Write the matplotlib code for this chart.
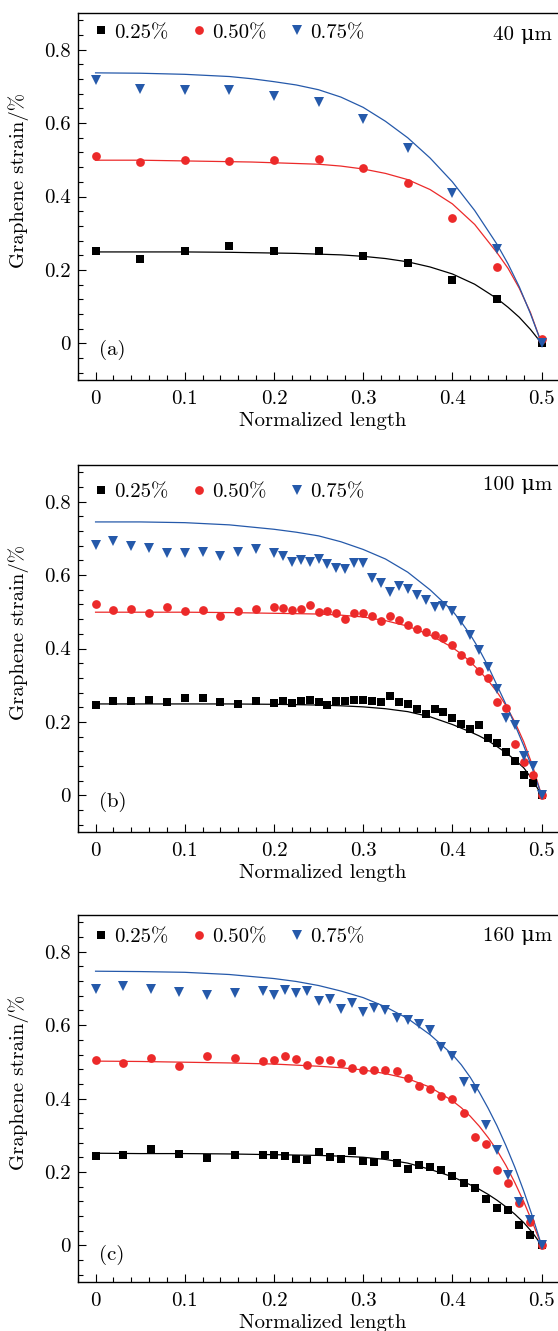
import matplotlib
matplotlib.use('Agg')
import matplotlib.pyplot as plt
from matplotlib.ticker import MultipleLocator, FuncFormatter

# Computer Modern look, DejaVu Serif picks up the micro sign
plt.rcParams['font.family'] = ['cmr10', 'DejaVu Serif']
plt.rcParams['mathtext.fontset'] = 'cm'
plt.rcParams['axes.unicode_minus'] = False
plt.rcParams['axes.formatter.use_mathtext'] = True
plt.rcParams['font.size'] = 15

BLACK = '#000000'
RED = '#ec2a2a'
BLUE = '#2559aa'

# ---- (a) 40 um ----
x_a = [0, 0.05, 0.1, 0.15, 0.2, 0.25, 0.3, 0.35, 0.4, 0.45, 0.5]
sq_a = [0.252, 0.231, 0.252, 0.265, 0.251, 0.252, 0.239, 0.219, 0.172, 0.120, 0.0]
ci_a = [0.510, 0.494, 0.500, 0.496, 0.500, 0.502, 0.477, 0.436, 0.342, 0.208, 0.012]
tr_a = [0.717, 0.693, 0.691, 0.689, 0.673, 0.657, 0.611, 0.531, 0.410, 0.258, 0.002]

fx_a = [0, 0.05, 0.1, 0.15, 0.175, 0.2, 0.225, 0.25, 0.275, 0.3, 0.325, 0.35,
        0.375, 0.4, 0.425, 0.45, 0.4625, 0.475, 0.4875, 0.5]
fsq_a = [0.249, 0.249, 0.249, 0.248, 0.247, 0.246, 0.245, 0.243, 0.241, 0.237,
         0.231, 0.222, 0.208, 0.189, 0.161, 0.122, 0.098, 0.071, 0.038, 0.0]
fci_a = [0.499, 0.499, 0.497, 0.495, 0.494, 0.492, 0.490, 0.488, 0.483, 0.475,
         0.463, 0.446, 0.419, 0.380, 0.324, 0.247, 0.204, 0.150, 0.084, 0.0]
ftr_a = [0.737, 0.736, 0.733, 0.727, 0.721, 0.713, 0.704, 0.691, 0.671, 0.643,
         0.605, 0.560, 0.505, 0.440, 0.362, 0.270, 0.216, 0.154, 0.081, 0.0]

# ---- (b) 100 um ----
x_b = [0, 0.02, 0.04, 0.06, 0.08, 0.1, 0.12, 0.14, 0.16, 0.18, 0.2,
       0.21, 0.22, 0.23, 0.24, 0.25, 0.26, 0.27, 0.28, 0.29, 0.3,
       0.31, 0.32, 0.33, 0.34, 0.35, 0.36, 0.37, 0.38, 0.39, 0.4,
       0.41, 0.42, 0.43, 0.44, 0.45, 0.46, 0.47, 0.48, 0.49, 0.5]
sq_b = [0.247, 0.256, 0.256, 0.259, 0.253, 0.266, 0.266, 0.254, 0.250, 0.257, 0.251,
        0.257, 0.252, 0.256, 0.259, 0.253, 0.247, 0.257, 0.257, 0.259, 0.259,
        0.256, 0.253, 0.270, 0.254, 0.250, 0.234, 0.221, 0.234, 0.226, 0.211,
        0.193, 0.181, 0.192, 0.157, 0.143, 0.118, 0.094, 0.056, 0.034, 0.0]
ci_b = [0.522, 0.506, 0.509, 0.498, 0.512, 0.501, 0.505, 0.490, 0.503, 0.507, 0.512,
        0.511, 0.505, 0.509, 0.518, 0.499, 0.501, 0.498, 0.480, 0.496, 0.496,
        0.489, 0.476, 0.488, 0.477, 0.463, 0.453, 0.446, 0.438, 0.429, 0.409,
        0.382, 0.365, 0.339, 0.319, 0.254, 0.237, 0.141, 0.090, 0.054, 0.002]
tr_b = [0.681, 0.693, 0.680, 0.674, 0.660, 0.660, 0.664, 0.651, 0.663, 0.672, 0.661,
        0.652, 0.637, 0.642, 0.636, 0.645, 0.629, 0.620, 0.618, 0.632, 0.632,
        0.591, 0.578, 0.555, 0.571, 0.563, 0.546, 0.533, 0.513, 0.515, 0.501,
        0.476, 0.437, 0.397, 0.351, 0.290, 0.211, 0.192, 0.108, 0.081, 0.0]

fx_bc = [0, 0.05, 0.1, 0.15, 0.2, 0.225, 0.25, 0.275, 0.3, 0.325, 0.35, 0.375, 0.4,
         0.41, 0.42, 0.43, 0.44, 0.45, 0.46, 0.47, 0.48, 0.49, 0.5]
fsq_b = [0.249, 0.249, 0.249, 0.249, 0.248, 0.247, 0.246, 0.244, 0.241, 0.236, 0.228,
         0.214, 0.193, 0.183, 0.173, 0.162, 0.149, 0.133, 0.116, 0.097, 0.075, 0.042, 0.0]
fci_b = [0.499, 0.499, 0.499, 0.498, 0.496, 0.495, 0.494, 0.491, 0.486, 0.476, 0.461,
         0.437, 0.403, 0.385, 0.364, 0.340, 0.313, 0.282, 0.245, 0.200, 0.146, 0.080, 0.0]
ftr_b = [0.745, 0.745, 0.743, 0.737, 0.725, 0.717, 0.707, 0.691, 0.670, 0.644, 0.608,
         0.560, 0.503, 0.472, 0.438, 0.398, 0.352, 0.300, 0.248, 0.193, 0.135, 0.071, 0.0]

# ---- (c) 160 um ----
x_c = [0, 0.03125, 0.0625, 0.09375, 0.125, 0.15625, 0.1875,
       0.2, 0.2125, 0.225, 0.2375, 0.25, 0.2625, 0.275, 0.2875, 0.3,
       0.3125, 0.325, 0.3375, 0.35, 0.3625, 0.375, 0.3875, 0.4, 0.4125,
       0.425, 0.4375, 0.45, 0.4625, 0.475, 0.4875, 0.5]
sq_c = [0.244, 0.247, 0.263, 0.249, 0.239, 0.245, 0.245,
        0.245, 0.244, 0.236, 0.233, 0.254, 0.242, 0.236, 0.257, 0.231,
        0.228, 0.245, 0.225, 0.207, 0.218, 0.214, 0.205, 0.188, 0.170,
        0.155, 0.127, 0.101, 0.095, 0.056, 0.029, 0.0]
ci_c = [0.506, 0.497, 0.510, 0.490, 0.515, 0.510, 0.502,
        0.506, 0.515, 0.507, 0.492, 0.505, 0.505, 0.498, 0.482, 0.477,
        0.478, 0.478, 0.475, 0.457, 0.434, 0.427, 0.406, 0.398, 0.361,
        0.295, 0.275, 0.205, 0.170, 0.115, 0.064, 0.002]
tr_c = [0.699, 0.706, 0.698, 0.691, 0.682, 0.688, 0.693,
        0.681, 0.695, 0.687, 0.693, 0.665, 0.670, 0.644, 0.660, 0.637,
        0.647, 0.642, 0.619, 0.615, 0.602, 0.587, 0.540, 0.515, 0.445,
        0.425, 0.327, 0.261, 0.191, 0.118, 0.068, 0.0]

fsq_c = [0.251, 0.250, 0.250, 0.249, 0.247, 0.246, 0.245, 0.243, 0.240, 0.234, 0.224,
         0.207, 0.187, 0.176, 0.165, 0.153, 0.139, 0.123, 0.105, 0.085, 0.062, 0.034, 0.0]
fci_c = [0.502, 0.501, 0.499, 0.497, 0.494, 0.491, 0.488, 0.484, 0.478, 0.468, 0.454,
         0.431, 0.394, 0.375, 0.352, 0.325, 0.294, 0.259, 0.218, 0.171, 0.119, 0.061, 0.0]
ftr_c = [0.747, 0.746, 0.744, 0.738, 0.727, 0.719, 0.708, 0.693, 0.675, 0.650, 0.618,
         0.574, 0.520, 0.492, 0.458, 0.418, 0.374, 0.326, 0.272, 0.213, 0.148, 0.077, 0.0]

labels = ['0.25%', '0.50%', '0.75%']


def draw_panel(ax, x, pts, fx, fits, tag, length, leg_y, len_y, tag_y):
    # fitted curves first, measured points on top
    for fy, c in zip(fits, [BLACK, RED, BLUE]):
        ax.plot(fx, fy, '-', color=c, lw=0.9, solid_joinstyle='round')
    for y, c, m, s, lab in zip(pts, [BLACK, RED, BLUE], ['s', 'o', 'v'],
                               [5.6, 6.3, 7.0], labels):
        ax.plot(x, y, m, color=c, ms=s, mew=0, ls='none', label=lab)

    ax.set_xlim(-0.02, 0.53)
    ax.set_ylim(-0.1, 0.9)
    ax.xaxis.set_major_locator(MultipleLocator(0.1))
    ax.xaxis.set_minor_locator(MultipleLocator(0.02))
    ax.yaxis.set_major_locator(MultipleLocator(0.2))
    ax.yaxis.set_minor_locator(MultipleLocator(0.04))
    fmt = FuncFormatter(lambda v, p: '%g' % round(v, 3))
    ax.xaxis.set_major_formatter(fmt)
    ax.yaxis.set_major_formatter(fmt)
    ax.tick_params(which='both', direction='in', top=False, right=False, width=0.8)
    ax.tick_params(which='major', length=6)
    ax.tick_params(which='minor', length=3.5)
    ax.tick_params(axis='x', pad=7)
    ax.tick_params(axis='y', pad=5)
    for sp in ax.spines.values():
        sp.set_linewidth(1.0)

    ax.set_xlabel('Normalized length', labelpad=3)
    ax.set_ylabel('Graphene strain/%')
    ax.yaxis.set_label_coords(-0.1, 0.545)

    ax.legend(loc='center left', bbox_to_anchor=(0.034, leg_y), ncol=3,
              frameon=False, handlelength=0.6, handletextpad=0.33,
              columnspacing=1.17, borderpad=0, borderaxespad=0)
    ax.text(0.967, len_y, length, transform=ax.transAxes, ha='right', va='center')
    ax.text(0.043, tag_y, tag, transform=ax.transAxes, ha='left', va='center')


fig = plt.figure(figsize=(5.58, 13.31), dpi=100)

ax1 = fig.add_axes([0.1393, 0.7145, 0.8792, 0.2757])
draw_panel(ax1, x_a, [sq_a, ci_a, tr_a], fx_a, [fsq_a, fci_a, ftr_a],
           '(a)', '40 μm', 0.947, 0.941, 0.082)

ax2 = fig.add_axes([0.1393, 0.3749, 0.8792, 0.2757])
draw_panel(ax2, x_b, [sq_b, ci_b, tr_b], fx_bc, [fsq_b, fci_b, ftr_b],
           '(b)', '100 μm', 0.927, 0.946, 0.082)

ax3 = fig.add_axes([0.1393, 0.0368, 0.8792, 0.2757])
draw_panel(ax3, x_c, [sq_c, ci_c, tr_c], fx_bc, [fsq_c, fci_c, ftr_c],
           '(c)', '160 μm', 0.940, 0.942, 0.074)

fig.savefig('out.png', dpi=100)
